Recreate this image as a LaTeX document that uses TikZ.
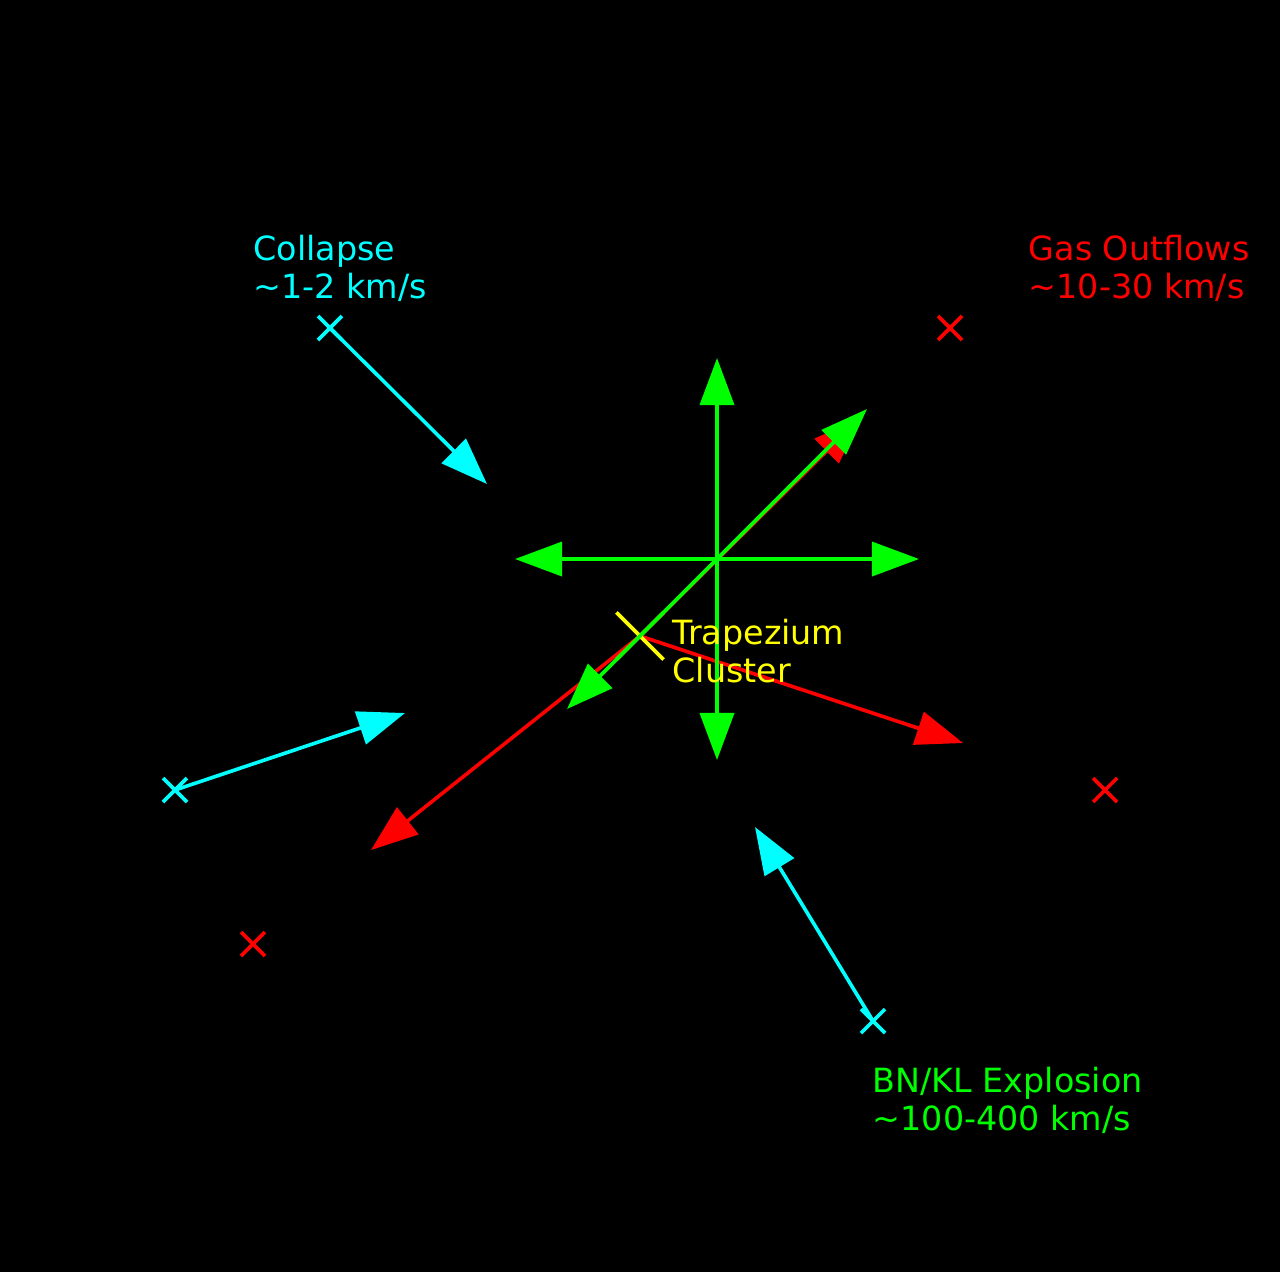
\documentclass[tikz,border=0pt]{standalone}
\usepackage{fontspec}
\setmainfont{DejaVu Sans}
\usetikzlibrary{arrows.meta}
\definecolor{cyn}{RGB}{0,255,255}
\definecolor{rd}{RGB}{255,0,0}
\definecolor{grn}{RGB}{0,255,0}
\definecolor{ylw}{RGB}{255,255,0}
\tikzset{
  arr/.style={line width=0.036cm, -{Triangle[length=0.47cm,width=0.34cm]}},
  lbl/.style={font=\fontsize{9.48}{10.8}\selectfont, align=left, inner sep=0pt, anchor=base west},
  xm/.pic={\draw[line width=0.036cm] (-12,-12) -- (12,12) (-12,12) -- (12,-12);}
}
\begin{document}
\begin{tikzpicture}[x=0.01cm,y=-0.01cm]
\fill[black] (0,0) rectangle (1280,1272);
\useasboundingbox (0,0) rectangle (1280,1272);
% key points
\coordinate (c) at (717,559);
\coordinate (t) at (640,636);
\coordinate (gu) at (717,358);
\coordinate (gd) at (717,760);
\coordinate (gl) at (515,559);
\coordinate (gr) at (919,559);
\coordinate (gne) at (867,409);
\coordinate (gsw) at (567,709);
% red
\coordinate (r1) at (950,328);
\coordinate (r2) at (1105,790);
\coordinate (r3) at (253,944);
\coordinate (rt1) at (860,418);
\coordinate (rt2) at (963,743);
\coordinate (rt3) at (371,850);
% cyan
\coordinate (k1) at (330,328);
\coordinate (k2) at (175,790);
\coordinate (k3) at (873,1021);
\coordinate (kt1) at (487,484);
\coordinate (kt2) at (405,713);
\coordinate (kt3) at (755,827);

% red outflows
\draw[arr, rd] (t) -- (rt1);
\draw[arr, rd] (t) -- (rt2);
\draw[arr, rd] (t) -- (rt3);
\pic[rd] at (r1) {xm};
\pic[rd] at (r2) {xm};
\pic[rd] at (r3) {xm};

% cyan collapse
\draw[arr, cyn] (k1) -- (kt1);
\draw[arr, cyn] (k2) -- (kt2);
\draw[arr, cyn] (k3) -- (kt3);
\pic[cyn] at (k1) {xm};
\pic[cyn] at (k2) {xm};
\pic[cyn] at (k3) {xm};

% trapezium marker
\pic[ylw, scale=1.96] at (t) {xm};

% green explosion
\draw[arr, grn] (c) -- (gu);
\draw[arr, grn] (c) -- (gd);
\draw[arr, grn] (c) -- (gl);
\draw[arr, grn] (c) -- (gr);
\draw[arr, grn] (c) -- (gne);
\draw[arr, grn] (c) -- (gsw);

% labels (anchor at baseline of last line)
\node[lbl, text=cyn] (lc) at (253,298) {Collapse\\\textasciitilde1-2 km/s};
\node[lbl, text=rd] (lg) at (1028,298) {Gas Outflows\\\textasciitilde10-30 km/s};
\node[lbl, text=ylw] (lt) at (672,682) {Trapezium\\Cluster};
\node[lbl, text=grn] (lb) at (872,1130) {BN/KL Explosion\\\textasciitilde100-400 km/s};
\end{tikzpicture}
\end{document}
